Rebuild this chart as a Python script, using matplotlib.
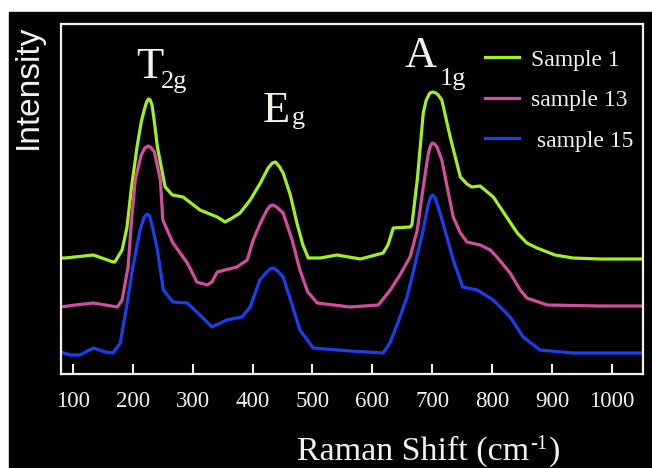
import matplotlib
matplotlib.use("Agg")
import matplotlib.pyplot as plt
from matplotlib.patches import Rectangle

W, H = 652, 468

# Raman shift (cm-1) and intensity (arb. units)
x_s1 = [80, 87, 134, 167, 170, 182, 190, 198, 207, 214, 219, 223, 226, 229,
        232, 236, 241, 254, 266, 284, 312, 341, 354, 366, 379, 396, 413, 426,
        433, 438, 444, 451, 463, 474, 484, 493, 513, 541, 580, 618, 626, 635,
        663, 666, 675, 685, 690, 696, 701, 706, 710, 716, 730, 747, 758, 766,
        780, 802, 822, 842, 858, 875, 905, 935, 980, 1050]
y_s1 = [116, 116, 119, 112, 112, 124, 146, 188, 227, 252, 264, 272, 275, 274,
        269, 252, 227, 187, 179, 177, 164, 157, 152, 156, 161, 174, 191, 206,
        211, 212, 208, 201, 179, 151, 129, 116, 116, 119, 115, 121, 129, 146,
        147, 149, 194, 261, 274, 281, 282, 281, 279, 274, 237, 197, 190, 187,
        188, 177, 159, 141, 131, 126, 119, 116, 115, 115]

x_s13 = [80, 104, 134, 154, 174, 182, 192, 198, 204, 214, 220, 226, 231, 236,
         246, 250, 267, 291, 307, 324, 332, 341, 374, 391, 401, 413, 424, 429,
         434, 440, 451, 466, 479, 492, 508, 563, 610, 630, 646, 663, 675, 685,
         693, 697, 700, 704, 708, 716, 735, 747, 758, 780, 797, 808, 830, 847,
         858, 892, 980, 1050]
y_s13 = [67, 69, 71, 69, 67, 74, 107, 155, 194, 219, 226, 228, 226, 222,
         194, 154, 131, 111, 92, 89, 92, 102, 107, 114, 134, 151, 164, 168,
         169, 167, 161, 134, 104, 82, 71, 67, 69, 84, 99, 117, 144, 187,
         219, 228, 231, 230, 227, 214, 157, 141, 132, 129, 124, 117, 101, 84,
         76, 69, 68, 68]

x_s15 = [80, 95, 112, 134, 154, 167, 179, 190, 200, 212, 219, 224, 228, 232,
         241, 251, 267, 291, 312, 332, 357, 382, 396, 412, 424, 429, 434, 440,
         451, 466, 479, 501, 563, 618, 626, 630, 643, 658, 671, 685, 693, 698,
         701, 705, 713, 725, 735, 751, 775, 802, 830, 852, 880, 935, 1050]
y_s15 = [22, 19, 19, 26, 22, 21, 31, 69, 107, 144, 157, 160, 158, 149,
         124, 84, 72, 71, 59, 47, 54, 57, 67, 94, 102, 105, 106, 104,
         97, 69, 44, 26, 23, 21, 28, 32, 52, 77, 109, 144, 169, 178,
         179, 176, 161, 136, 114, 87, 84, 74, 57, 37, 24, 21, 21]

labels = ["Sample 1", "sample 13", " sample 15"]
colors = ["#a3f01e", "#d24d9e", "#1a3ff0"]
xticks = [100, 200, 300, 400, 500, 600, 700, 800, 900, 1000]

SERIF = "Liberation Serif"
INK = "#f3f1e8"


def fx(px):
    return px / W


def fy(py):
    return 1 - py / H


fig = plt.figure(figsize=(W / 100, H / 100), dpi=100, facecolor="white")
fig.patches.append(Rectangle((fx(9), 0), 1 - fx(9), fy(12), color="black",
                             transform=fig.transFigure, zorder=-5))

ax = fig.add_axes([fx(61), fy(374), fx(643) - fx(61), fy(24) - fy(374)])
ax.set_facecolor("black")
for (xs, ys, c, lab) in zip([x_s1, x_s13, x_s15], [y_s1, y_s13, y_s15],
                            colors, labels):
    ax.plot(xs, ys, color=c, lw=2.3, label=lab, solid_joinstyle="round")

ax.set_xlim(80, 1052)
ax.set_ylim(0, 350)
ax.set_xticks(xticks)
ax.set_yticks([])
for s in ax.spines.values():
    s.set_color(INK)
    s.set_linewidth(1.6)
ax.tick_params(axis="x", direction="in", length=7, width=1.5, color=INK,
               labelcolor=INK, labelsize=16.5, pad=12)
for t in ax.get_xticklabels():
    t.set_fontfamily(SERIF)

leg = ax.legend(loc="upper left", bbox_to_anchor=(0.7285, 0.928),
                frameon=False, borderpad=0, borderaxespad=0,
                handlelength=1.45, handletextpad=0.5, labelspacing=0.8,
                prop={"family": SERIF, "size": 17})
for t in leg.get_texts():
    t.set_color(INK)

# peak labels
peaks = [("T", "2g", 136, 78, 161, 88),
         ("E", "g", 263, 122, 292, 124),
         ("A", "1g", 405, 67, 440, 85)]
for big, sub, x0, b0, x1, b1 in peaks:
    fig.text(fx(x0), fy(b0), big, family=SERIF, size=32, color=INK,
             ha="left", va="baseline")
    fig.text(fx(x1), fy(b1), sub, family=SERIF, size=19, color=INK,
             ha="left", va="baseline")

fig.text(fx(28), fy(87), "Intensity", family="Liberation Sans", size=24,
         color=INK, rotation=90, ha="center", va="center")

# x label: "Raman Shift (cm" + raised "-1" + ")"
r = fig.canvas.get_renderer()
t1 = fig.text(fx(297), fy(460), "Raman Shift (cm", family=SERIF, size=24.5,
              color=INK, ha="left", va="baseline")
x_end = t1.get_window_extent(r).x1
t2 = fig.text(x_end / W + 0.002, fy(449), "-1", family=SERIF,
              size=15, color=INK, ha="left", va="baseline")
x_end = t2.get_window_extent(r).x1
fig.text(x_end / W + 0.002, fy(460), ")", family=SERIF, size=24.5,
         color=INK, ha="left", va="baseline")

fig.savefig("out.png", dpi=100, facecolor="white")
